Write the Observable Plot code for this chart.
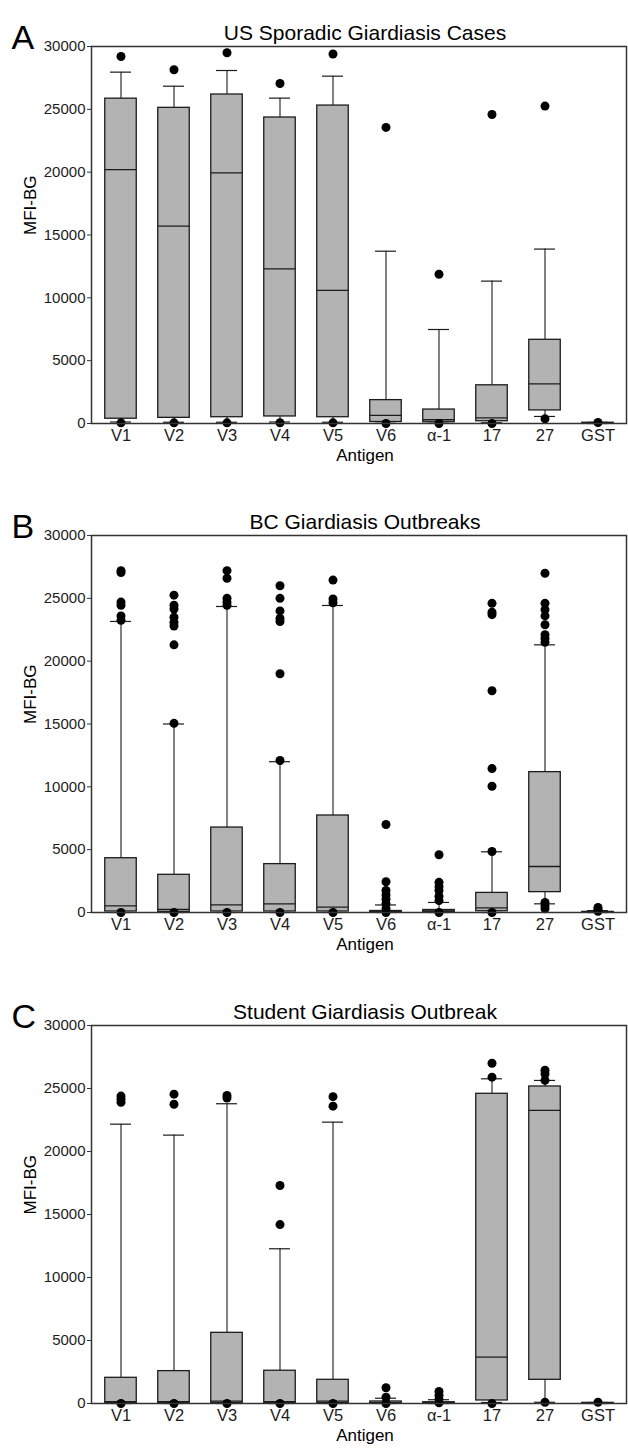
<!DOCTYPE html>
<html>
<head>
<meta charset="utf-8">
<script src="https://cdn.jsdelivr.net/npm/d3@7"></script>
<script src="https://cdn.jsdelivr.net/npm/@observablehq/plot@0.6"></script>
<style>
  html, body { margin: 0; padding: 0; background: #fff; }
  #chart { width: 628px; height: 1449px; overflow: hidden; }
  #chart svg { display: block; }
</style>
</head>
<body>
<div id="chart"></div>
<script>
// ---------- data ----------
const antigens = ["V1", "V2", "V3", "V4", "V5", "V6", "α-1", "17", "27", "GST"];
const yTicks = [0, 5000, 10000, 15000, 20000, 25000, 30000];

// Panel A: US Sporadic Giardiasis Cases
const aQ1  = [380, 450, 500, 560, 500, 120, 100, 180, 1040, 20];
const aMed = [20200, 15700, 19950, 12300, 10600, 640, 300, 450, 3160, 40];
const aQ3  = [25850, 25120, 26180, 24350, 25300, 1860, 1110, 3040, 6660, 60];
const aLo  = [120, 100, 100, 120, 100, 20, 20, 60, 560, 0];
const aHi  = [27960, 26840, 28090, 25890, 27640, 13710, 7480, 11330, 13880, 90];
const aOut = [[29200, 50], [28150, 50], [29500, 50], [27060, 60], [29400, 50],
              [23560, 0], [11880, 0], [24590, 0], [25260, 370], [80]];

// Panel B: BC Giardiasis Outbreaks
const bQ1  = [80, 30, 80, 80, 80, 20, 40, 100, 1620, 10];
const bMed = [530, 240, 610, 690, 430, 50, 120, 370, 3660, 30];
const bQ3  = [4320, 3000, 6760, 3850, 7720, 120, 200, 1560, 11170, 50];
const bLo  = [0, 0, 0, 0, 0, 0, 0, 0, 690, 0];
const bHi  = [23160, 15000, 24350, 12000, 24430, 600, 800, 4830, 21300, 150];
const bOut = [
  [27200, 27050, 24700, 24450, 23600, 23250, 0],
  [25250, 24450, 24150, 23500, 23100, 22800, 21300, 15050, 0],
  [27200, 26600, 25000, 24700, 24450, 0],
  [26000, 25000, 24000, 23400, 23150, 19000, 12100, 0],
  [26450, 24950, 24650, 0],
  [7000, 2450, 1750, 1400, 1050, 700, 300, 0],
  [4600, 2400, 2050, 1750, 1300, 950, 0],
  [24600, 23900, 23700, 17650, 11450, 10050, 4850, 0],
  [27000, 24600, 24100, 23600, 22900, 22100, 21800, 21500, 800, 550, 300],
  [400, 250, 100]
];

// Panel C: Student Giardiasis Outbreak
const cQ1  = [30, 30, 30, 30, 30, 20, 10, 240, 1880, 10];
const cMed = [150, 150, 190, 150, 190, 60, 40, 3680, 23260, 30];
const cQ3  = [2040, 2570, 5610, 2600, 1880, 160, 100, 24580, 25160, 50];
const cLo  = [0, 0, 0, 0, 0, 0, 0, 80, 100, 0];
const cHi  = [22170, 21300, 23790, 12280, 22330, 420, 300, 25770, 25640, 80];
const cOut = [
  [24400, 24150, 23900, 0],
  [24550, 23750, 0],
  [24450, 24250, 0],
  [17300, 14200, 0],
  [24350, 23600, 0],
  [1250, 500, 0],
  [950, 650, 350, 50],
  [27000, 25900, 0],
  [26450, 26150, 25650, 100],
  [100]
];

const panels = [
  {letter: "A", title: "US Sporadic Giardiasis Cases", q1: aQ1, med: aMed, q3: aQ3, lo: aLo, hi: aHi, out: aOut, height: 489, mb: 66},
  {letter: "B", title: "BC Giardiasis Outbreaks",      q1: bQ1, med: bMed, q3: bQ3, lo: bLo, hi: bHi, out: bOut, height: 490, mb: 67},
  {letter: "C", title: "Student Giardiasis Outbreak",  q1: cQ1, med: cMed, q3: cQ3, lo: cLo, hi: cHi, out: cOut, height: 470, mb: 46}
];

// ---------- drawing ----------
const FONT = "'Liberation Sans', Arial, Helvetica, sans-serif";
const INK = "#1c1c1c";
const BOX_INSET = 10.75;
const CAP_INSET = 16;

const chart = document.getElementById("chart");

for (const p of panels) {
  const rows = antigens.map((a, i) => ({antigen: a, q1: p.q1[i], med: p.med[i], q3: p.q3[i], lo: p.lo[i], hi: p.hi[i]}));
  const outs = antigens.flatMap((a, i) => p.out[i].map(v => ({antigen: a, value: v})));

  const svg = Plot.plot({
    width: 628,
    height: p.height,
    marginLeft: 91,
    marginRight: 2,
    marginTop: 46,
    marginBottom: p.mb,
    style: {fontFamily: FONT, color: INK, background: "#fff", overflow: "visible"},
    x: {domain: antigens, padding: 0, axis: null},
    y: {domain: [0, 30000], axis: null},
    marks: [
      Plot.ruleX(rows, {x: "antigen", y1: "q3", y2: "hi", stroke: INK, strokeWidth: 1.1}),
      Plot.ruleX(rows, {x: "antigen", y1: "lo", y2: "q1", stroke: INK, strokeWidth: 1.1}),
      Plot.tickY(rows, {x: "antigen", y: "hi", stroke: INK, strokeWidth: 1.2, insetLeft: CAP_INSET, insetRight: CAP_INSET}),
      Plot.tickY(rows, {x: "antigen", y: "lo", stroke: INK, strokeWidth: 1.2, insetLeft: CAP_INSET, insetRight: CAP_INSET}),
      Plot.barY(rows, {x: "antigen", y1: "q1", y2: "q3", fill: "#b3b3b3", stroke: INK, strokeWidth: 1.3, insetLeft: BOX_INSET, insetRight: BOX_INSET}),
      Plot.tickY(rows, {x: "antigen", y: "med", stroke: INK, strokeWidth: 1.3, insetLeft: BOX_INSET, insetRight: BOX_INSET}),
      Plot.dot(outs, {x: "antigen", y: "value", r: 4.5, fill: "#000", stroke: null}),
      Plot.frame({stroke: "#333", strokeWidth: 1.5}),
      // y ticks and labels
      Plot.axisY({ticks: yTicks, tickSize: 4, tickFormat: () => "", label: null, stroke: "#333"}),
      Plot.text(yTicks, {y: d => d, text: d => String(d), frameAnchor: "left", dx: -6, textAnchor: "end", fontSize: 15, fill: INK}),
      // x labels
      Plot.text(antigens, {x: d => d, text: d => d, frameAnchor: "bottom", dy: 17, fontSize: 16.5, fill: INK}),
      // titles & axis labels
      Plot.text([p.letter], {frameAnchor: "top-left", dx: -80, dy: -22, fontSize: 34, textAnchor: "start", fill: "#000"}),
      Plot.text([p.title], {frameAnchor: "top", dx: 6, dy: -21, fontSize: 21, fill: "#000"}),
      Plot.text(["MFI-BG"], {frameAnchor: "left", dx: -61, rotate: -90, fontSize: 17, fill: "#000"}),
      Plot.text(["Antigen"], {frameAnchor: "bottom", dx: 6, dy: 37, fontSize: 17, fill: "#000"})
    ]
  });
  chart.appendChild(svg);
}
</script>
</body>
</html>
